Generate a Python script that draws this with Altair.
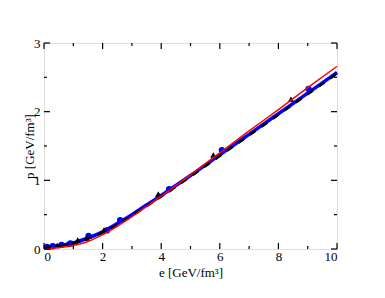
import altair as alt
import pandas as pd

# line series
e_line = [0.0, 0.5, 1.0, 1.5, 2.0, 2.5, 3.0, 3.5, 4.0, 5.0, 6.0, 7.0, 8.0, 9.0, 10.0]
p_blue = [0.02, 0.05, 0.09, 0.16, 0.25, 0.37, 0.50, 0.64, 0.78, 1.07, 1.37, 1.67, 1.97, 2.27, 2.57]
p_black = [0.01, 0.04, 0.08, 0.15, 0.24, 0.355, 0.485, 0.625, 0.765, 1.055, 1.355, 1.655, 1.955, 2.255, 2.555]
p_red = [0.0, 0.02, 0.05, 0.11, 0.21, 0.33, 0.47, 0.62, 0.77, 1.08, 1.40, 1.72, 2.03, 2.35, 2.66]

# markers
e_tri = [0.15, 0.45, 0.8, 1.15, 1.45, 2.05, 3.9, 5.78, 8.43]
p_tri = [0.03, 0.05, 0.07, 0.13, 0.16, 0.28, 0.80, 1.37, 2.18]
e_circ = [0.1, 0.3, 0.6, 0.9, 1.52, 2.15, 2.6, 4.27, 6.07, 9.03]
p_circ = [0.03, 0.04, 0.06, 0.08, 0.19, 0.27, 0.42, 0.87, 1.44, 2.33]

x_major = [0, 2, 4, 6, 8, 10]
x_minor = [1, 3, 5, 7, 9]
y_major = [0, 1, 2, 3]
y_minor = [0.5, 1.5, 2.5]

W, H = 293, 206
FONT = "Liberation Serif"

lines = pd.DataFrame({"e": e_line, "blue": p_blue, "black": p_black, "red": p_red})
tri = pd.DataFrame({"e": e_tri, "p": p_tri})
circ = pd.DataFrame({"e": e_circ, "p": p_circ})

xs = alt.Scale(domain=[0, 10], nice=False, zero=False)
ys = alt.Scale(domain=[0, 3], nice=False, zero=False)

xax = alt.Axis(values=x_major, format="d", ticks=False, domain=False, grid=False, labelFont=FONT,
               labelFontSize=13, labelColor="black", labelPadding=1,
               title="e [GeV/fm³]", titleFont=FONT, titleFontSize=13,
               titleFontWeight="normal", titleColor="black",
               titleY=23, titleBaseline="middle")
yax = alt.Axis(values=y_major, format="d", ticks=False, domain=False, grid=False, labelFont=FONT,
               labelFontSize=13, labelColor="black", labelPadding=4,
               title="p [GeV/fm³]", titleFont=FONT, titleFontSize=13,
               titleFontWeight="normal", titleColor="black",
               titleX=-15, titleY=H / 2, titleBaseline="middle", titleAlign="center", titleAngle=270)

base = alt.Chart(lines)
blue_line = base.mark_line(color="#0000ff", strokeWidth=3.5, interpolate="monotone").encode(
    x=alt.X("e:Q", scale=xs, axis=xax), y=alt.Y("blue:Q", scale=ys, axis=yax))
black_line = base.mark_line(color="black", strokeWidth=2.5, strokeDash=[7, 7],
                            interpolate="monotone").encode(
    x=alt.X("e:Q", scale=xs), y=alt.Y("black:Q", scale=ys))
red_line = base.mark_line(color="#ff0000", strokeWidth=1.5, interpolate="monotone").encode(
    x=alt.X("e:Q", scale=xs), y=alt.Y("red:Q", scale=ys))

tri_m = alt.Chart(tri).mark_point(shape="triangle-up", filled=True, color="black",
                                   size=40, opacity=1).encode(
    x=alt.X("e:Q", scale=xs), y=alt.Y("p:Q", scale=ys))
circ_m = alt.Chart(circ).mark_point(shape="circle", filled=True, color="#0000ff",
                                     size=40, opacity=1).encode(
    x=alt.X("e:Q", scale=xs), y=alt.Y("p:Q", scale=ys))

def xticks(vals, length):
    d = pd.DataFrame({"e": vals})
    b = alt.Chart(d).mark_rule(color="black", strokeWidth=1.2)
    bottom = b.encode(x=alt.X("e:Q", scale=xs), y=alt.value(H), y2=alt.value(H - length))
    top = b.encode(x=alt.X("e:Q", scale=xs), y=alt.value(0), y2=alt.value(length))
    return bottom + top

def yticks(vals, length):
    d = pd.DataFrame({"p": vals})
    b = alt.Chart(d).mark_rule(color="black", strokeWidth=1.2)
    left = b.encode(y=alt.Y("p:Q", scale=ys), x=alt.value(0), x2=alt.value(length))
    right = b.encode(y=alt.Y("p:Q", scale=ys), x=alt.value(W), x2=alt.value(W - length))
    return left + right

chart = alt.layer(
    blue_line, circ_m, black_line, tri_m, red_line,
    xticks(x_major, 6), xticks(x_minor, 3), yticks(y_major, 6), yticks(y_minor, 3)
).properties(
    width=W, height=H,
    autosize=alt.AutoSizeParams(type="none"),
    padding={"left": 36, "top": 35, "right": 40, "bottom": 40},
).configure_view(stroke="black", strokeWidth=1.5).configure(background="white")

chart.save("out.html", embed_options={"renderer": "svg", "actions": False})
